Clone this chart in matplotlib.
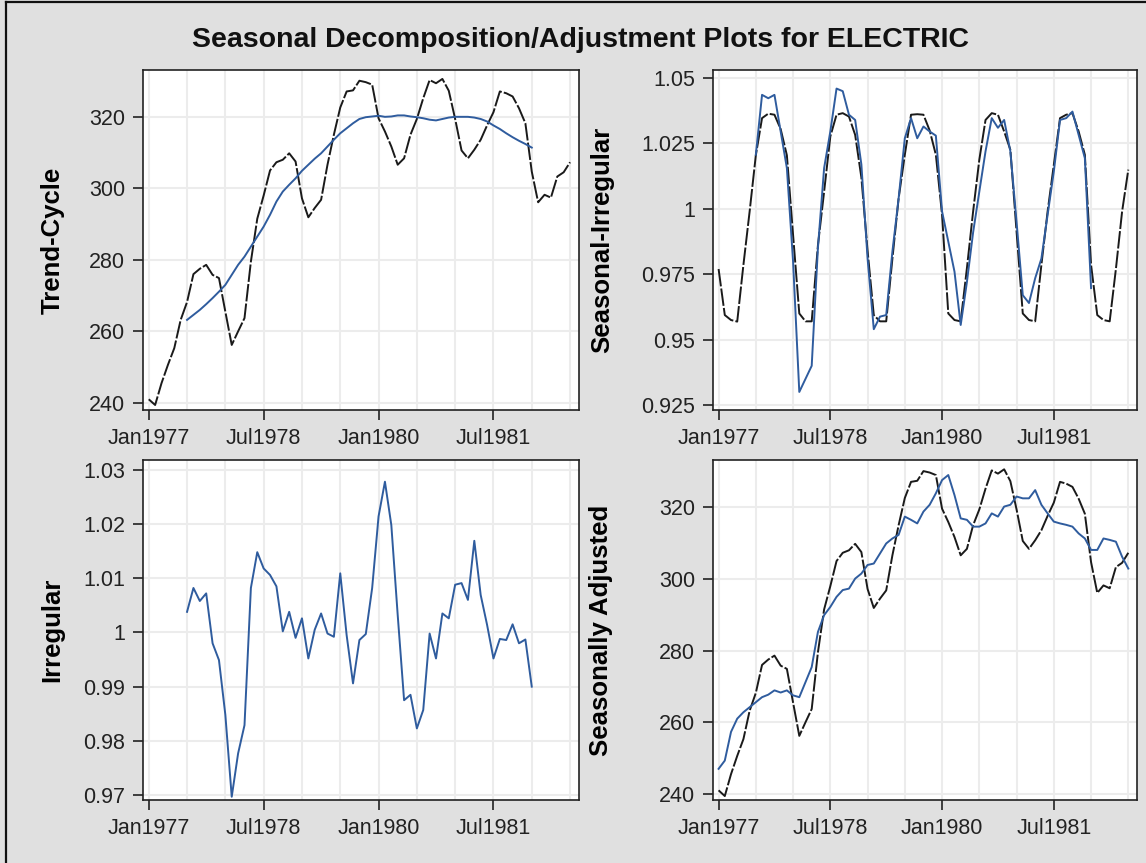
import numpy as np
import matplotlib
matplotlib.use("Agg")
import matplotlib.pyplot as plt
from matplotlib.lines import Line2D

plt.rcParams['font.family'] = ['Liberation Sans', 'DejaVu Sans']

# ---- data (monthly, Jan1977 .. Jul1982) ----
months = np.arange(67)                 # 0 = Jan1977
inner = np.arange(6, 61)               # Jul1977 .. Jan1982 (centered MA range)

electric = [241.0, 239.4, 245.5, 250.6, 255.3, 263.2, 268.2, 276.0, 277.5, 278.6, 275.8, 274.9,
            265.5, 256.2, 260.0, 263.7, 279.5, 291.5, 298.0, 305.0, 307.3, 308.0, 309.8, 307.5,
            297.2, 291.9, 294.5, 296.8, 306.6, 315.0, 322.6, 327.1, 327.4, 330.1, 329.7, 329.0,
            319.6, 315.9, 311.7, 306.6, 308.4, 315.0, 319.4, 325.2, 330.3, 329.4, 330.6, 327.3,
            319.4, 310.6, 308.4, 310.8, 313.6, 317.6, 321.3, 327.1, 326.6, 325.7, 322.4, 318.2,
            304.7, 296.1, 298.2, 297.4, 303.3, 304.5, 307.3]

trend = [263.2, 264.6, 266.0, 267.6, 269.3, 271.1, 273.0, 275.8, 278.6, 280.9, 283.7, 286.5,
         289.3, 292.6, 296.3, 299.1, 301.0, 302.8, 304.9, 306.6, 308.3, 309.8, 311.7, 313.6,
         315.4, 316.8, 318.2, 319.4, 319.9, 320.1, 320.3, 320.0, 320.1, 320.4, 320.4, 320.1,
         319.9, 319.6, 319.2, 319.0, 319.4, 319.8, 320.0, 320.0, 320.0, 319.8, 319.4, 318.7,
         317.6, 316.6, 315.4, 314.3, 313.3, 312.4, 311.4]

seasonal = [0.977, 0.9594, 0.9575, 0.9569, 0.9786, 0.999, 1.0205, 1.0347, 1.0364, 1.036, 1.0305, 1.0205,
            0.990, 0.960, 0.957, 0.957, 0.986, 1.0066, 1.0277, 1.036, 1.0366, 1.0353, 1.0283, 1.012,
            0.984, 0.9594, 0.957, 0.957, 0.981, 1.004, 1.0207, 1.036, 1.0362, 1.036, 1.030, 1.0207,
            0.9977, 0.960, 0.9575, 0.957, 0.9773, 0.999, 1.0188, 1.034, 1.0366, 1.036, 1.0296, 1.0226,
            0.9913, 0.960, 0.9575, 0.957, 0.9786, 0.999, 1.0168, 1.0347, 1.036, 1.0366, 1.0296, 1.0207,
            0.9786, 0.9594, 0.9575, 0.957, 0.977, 0.999, 1.015]

seas_irr = [1.0207, 1.0436, 1.0423, 1.0436, 1.0296, 1.0156, 0.9798, 0.930, 0.935, 0.940, 0.985, 1.0156,
            1.0296, 1.046, 1.045, 1.036, 1.034, 1.017, 0.981, 0.954, 0.9588, 0.9594, 0.9837, 1.004,
            1.027, 1.0347, 1.027, 1.0315, 1.0296, 1.028, 0.999, 0.9875, 0.976, 0.9556, 0.972, 0.991,
            1.0066, 1.022, 1.0347, 1.031, 1.034, 1.022, 0.995, 0.967, 0.964, 0.9735, 0.981, 0.9977,
            1.0143, 1.034, 1.0347, 1.0372, 1.0283, 1.0194, 0.9697]

irregular = [1.0038, 1.0082, 1.0058, 1.0072, 0.998, 0.9949, 0.9848, 0.9697, 0.9777, 0.9829, 1.0082, 1.0148,
             1.0118, 1.0106, 1.0085, 1.0002, 1.0038, 0.999, 1.0026, 0.9952, 1.0005, 1.0035, 0.9998, 0.9992,
             1.0109, 0.9995, 0.9906, 0.9986, 0.9997, 1.0082, 1.0214, 1.0278, 1.0198, 1.0032, 0.9875, 0.9885,
             0.9823, 0.9857, 0.9998, 0.9952, 1.0035, 1.0026, 1.0088, 1.0091, 1.006, 1.0169, 1.0069, 1.0014,
             0.9952, 0.9988, 0.9986, 1.0015, 0.998, 0.9987, 0.990]

seas_adj = [247.0, 249.3, 257.3, 261.0, 262.8, 264.2, 265.6, 267.0, 267.7, 268.9, 268.3, 268.9,
            267.5, 267.0, 271.2, 275.4, 285.2, 289.9, 292.2, 295.0, 296.9, 297.3, 300.1, 301.5,
            303.9, 304.3, 307.1, 309.9, 311.3, 312.3, 317.4, 316.5, 315.5, 318.8, 320.7, 323.9,
            327.6, 329.0, 323.4, 316.9, 316.5, 314.6, 314.6, 315.5, 318.3, 317.4, 320.2, 320.7,
            323.0, 322.5, 322.5, 324.8, 320.7, 318.3, 316.0, 315.5, 315.1, 314.6, 312.7, 311.3,
            308.1, 308.1, 311.3, 310.9, 310.4, 306.2, 302.9]

xticks = [0, 18, 36, 54]
xticklabels = ['Jan1977', 'Jul1978', 'Jan1980', 'Jul1981']

BG = '#e0e0e0'
BLUE = '#2f5c9e'
GRID = '#ececec'

fig = plt.figure(figsize=(11.46, 8.63), dpi=100, facecolor=BG)
W, H = 1146.0, 863.0


def make_ax(l, t, r, b):
    ax = fig.add_axes([l / W, 1 - b / H, (r - l) / W, (b - t) / H])
    ax.set_facecolor('white')
    for s in ax.spines.values():
        s.set_color('#222222')
        s.set_linewidth(1.2)
    ax.set_xlim(-0.9, 67.4)
    ax.set_xticks(xticks)
    ax.set_xticklabels(xticklabels)
    ax.set_xticks([6, 12, 24, 30, 42, 48, 60, 66], minor=True)
    ax.tick_params(which='major', direction='out', length=7, width=1.2,
                   color='#222222', labelsize=15.5, pad=6, labelcolor='#222222')
    ax.tick_params(which='minor', length=0)
    ax.grid(True, which='both', color=GRID, linewidth=1.5)
    ax.set_axisbelow(True)
    return ax


def dashed(ax, x, y):
    ln, = ax.plot(x, y, color='#1a1a1a', linewidth=1.4)
    ln.set_dashes((9, 1.1))


# Trend-Cycle
ax1 = make_ax(143, 70, 579, 410)
dashed(ax1, months, electric)
ax1.plot(inner, trend, color=BLUE, linewidth=1.4)
ax1.set_ylim(238.0, 333.1)
ax1.set_yticks([240, 260, 280, 300, 320])
ax1.set_ylabel('Trend-Cycle', fontsize=18.5, fontweight='bold')
ax1.yaxis.set_label_coords(-0.18, 0.5)

# Seasonal-Irregular
ax2 = make_ax(713, 70, 1137, 410)
dashed(ax2, months, seasonal)
ax2.plot(inner, seas_irr, color=BLUE, linewidth=1.4)
ax2.set_ylim(0.9231, 1.0531)
ax2.set_yticks([0.925, 0.95, 0.975, 1.0, 1.025, 1.05])
ax2.set_yticklabels(['0.925', '0.95', '0.975', '1', '1.025', '1.05'])
ax2.set_ylabel('Seasonal-Irregular', fontsize=18.5, fontweight='bold')
ax2.yaxis.set_label_coords(-0.232, 0.5)

# Irregular
ax3 = make_ax(143, 460, 579, 800)
ax3.plot(inner, irregular, color=BLUE, linewidth=1.4)
ax3.set_ylim(0.9691, 1.0318)
ax3.set_yticks([0.97, 0.98, 0.99, 1.0, 1.01, 1.02, 1.03])
ax3.set_yticklabels(['0.97', '0.98', '0.99', '1', '1.01', '1.02', '1.03'])
ax3.set_ylabel('Irregular', fontsize=18.5, fontweight='bold')
ax3.yaxis.set_label_coords(-0.18, 0.5)

# Seasonally Adjusted
ax4 = make_ax(713, 460, 1137, 800)
dashed(ax4, months, electric)
ax4.plot(months, seas_adj, color=BLUE, linewidth=1.4)
ax4.set_ylim(238.3, 333.2)
ax4.set_yticks([240, 260, 280, 300, 320])
ax4.set_ylabel('Seasonally Adjusted', fontsize=18.5, fontweight='bold')
ax4.yaxis.set_label_coords(-0.236, 0.5)

fig.text(581 / W, 1 - 40 / H, 'Seasonal Decomposition/Adjustment Plots for ELECTRIC',
         ha='center', va='center', fontsize=20.5, fontweight='bold', color='#111111')

# outer frame (only top and left edges visible in the crop)
fig.add_artist(Line2D([6 / W, 6 / W], [0, 1 - 2 / H], color='#111111', linewidth=1.6,
                      transform=fig.transFigure))
fig.add_artist(Line2D([6 / W, 1], [1 - 2 / H, 1 - 2 / H], color='#111111', linewidth=1.6,
                      transform=fig.transFigure))

fig.savefig('out.png', dpi=100, facecolor=BG)
